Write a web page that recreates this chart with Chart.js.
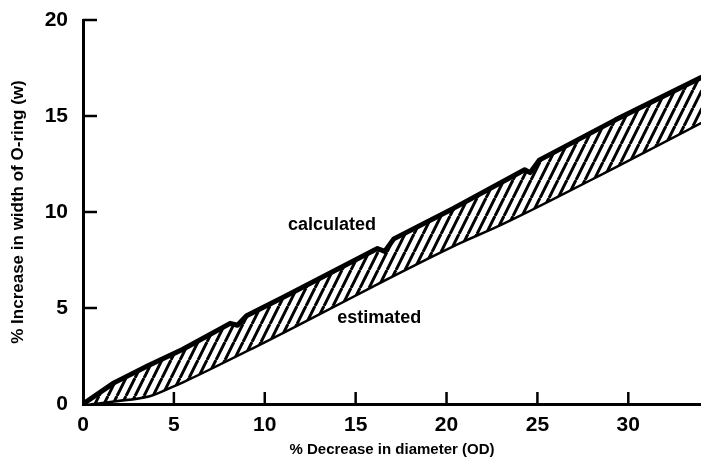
<!DOCTYPE html>
<html>
<head>
<meta charset="utf-8">
<script src="https://cdn.jsdelivr.net/npm/chart.js@4"></script>
<style>
  body { margin: 0; background: #fff; }
  #wrap { width: 701px; height: 469px; }
</style>
</head>
<body>
<div id="wrap"><canvas id="chart" width="701" height="469"></canvas></div>
<script>
// upper edge of the band (calculated), with the small notches where it jogs
const calcX = [0, 1.7, 3.6, 5.5, 8.1, 8.5, 9.0, 11.1, 16.2, 16.6, 17.1, 20.4, 24.3, 24.6, 25.1, 29.3, 34];
const calcY = [0, 1.1, 2.0, 2.85, 4.2, 4.1, 4.6, 5.6, 8.1, 7.95, 8.6, 10.2, 12.2, 12.05, 12.7, 14.8, 17.0];

// lower edge of the band (estimated)
const estX = [0, 1.7, 3.6, 4.9, 5.5, 9.5, 20.4, 23, 29.3, 34];
const estY = [0, 0.2, 0.45, 0.95, 1.2, 3.05, 8.3, 9.4, 12.4, 14.7];

const xTicks = [0, 5, 10, 15, 20, 25, 30];
const yTicks = [0, 5, 10, 15, 20];

// text notes placed in data units
const notes = [
  { text: 'calculated', x: 13.7, y: 9.3 },
  { text: 'estimated', x: 16.3, y: 4.5 }
];

const FONT = '"Liberation Sans", Arial, Helvetica, sans-serif';
Chart.defaults.font.family = FONT;
Chart.defaults.color = '#000';

function hatch() {
  const c = document.createElement('canvas');
  c.width = 9;
  c.height = 18;
  const g = c.getContext('2d');
  g.fillStyle = '#fff';
  g.fillRect(0, 0, 9, 18);
  g.strokeStyle = '#000';
  g.lineWidth = 3;
  g.beginPath();
  [-9, 0, 9].forEach(o => {
    g.moveTo(o, 18);
    g.lineTo(o + 9, 0);
  });
  g.stroke();
  return g.createPattern(c, 'repeat');
}

const pts = (xs, ys) => xs.map((x, i) => ({ x: x, y: ys[i] }));

const inwardTicks = {
  id: 'inwardTicks',
  beforeDatasetsDraw(chart) {
    const { ctx, chartArea: a, scales: { x, y } } = chart;
    ctx.save();
    ctx.strokeStyle = '#000';
    ctx.lineWidth = 2.5;
    ctx.beginPath();
    x.ticks.forEach(t => {
      if (t.value === 0) return;
      const px = x.getPixelForValue(t.value);
      ctx.moveTo(px, a.bottom);
      ctx.lineTo(px, a.bottom - 12);
    });
    y.ticks.forEach(t => {
      if (t.value === 0) return;
      const py = y.getPixelForValue(t.value);
      ctx.moveTo(a.left, py);
      ctx.lineTo(a.left + 14, py);
    });
    ctx.stroke();
    ctx.restore();
  }
};

const noteText = {
  id: 'noteText',
  afterDatasetsDraw(chart) {
    const { ctx, scales: { x, y } } = chart;
    ctx.save();
    ctx.font = 'bold 18px ' + FONT;
    ctx.fillStyle = '#000';
    ctx.textAlign = 'center';
    ctx.textBaseline = 'middle';
    notes.forEach(n => ctx.fillText(n.text, x.getPixelForValue(n.x), y.getPixelForValue(n.y)));
    ctx.restore();
  }
};

new Chart(document.getElementById('chart'), {
  type: 'line',
  data: {
    datasets: [
      {
        label: 'calculated',
        data: pts(calcX, calcY),
        borderColor: '#000',
        borderWidth: 5,
        backgroundColor: hatch(),
        fill: '+1',
        pointRadius: 0,
        tension: 0,
        borderCapStyle: 'round',
        borderJoinStyle: 'round'
      },
      {
        label: 'estimated',
        data: pts(estX, estY),
        borderColor: '#000',
        borderWidth: 5,
        pointRadius: 0,
        cubicInterpolationMode: 'monotone',
        borderCapStyle: 'round',
        fill: false
      }
    ]
  },
  options: {
    responsive: false,
    animation: false,
    layout: { padding: { top: 20, right: 0, left: 0, bottom: 0 } },
    plugins: {
      legend: { display: false },
      tooltip: { enabled: false }
    },
    scales: {
      x: {
        type: 'linear',
        min: 0,
        max: 34,
        grid: { display: false, drawTicks: false },
        border: { display: true, color: '#000', width: 3 },
        afterBuildTicks: s => { s.ticks = xTicks.map(v => ({ value: v })); },
        afterFit: s => { s.height = 65; s.paddingLeft = 0; s.paddingRight = 0; },
        ticks: { padding: 9, font: { size: 21, weight: 'bold' } },
        title: {
          display: true,
          text: '% Decrease in diameter (OD)',
          font: { size: 15, weight: 'bold' },
          padding: { top: 0, bottom: 10 }
        }
      },
      y: {
        min: 0,
        max: 20,
        grid: { display: false, drawTicks: false },
        border: { display: true, color: '#000', width: 3 },
        afterBuildTicks: s => { s.ticks = yTicks.map(v => ({ value: v })); },
        afterFit: s => { s.width = 83; s.paddingTop = 0; s.paddingBottom = 0; },
        ticks: { padding: 15, font: { size: 21, weight: 'bold' } },
        title: {
          display: true,
          text: '% Increase in width of O-ring (w)',
          font: { size: 17, weight: 'bold' },
          padding: { top: 8, bottom: 0 }
        }
      }
    }
  },
  plugins: [inwardTicks, noteText]
});
</script>
</body>
</html>
